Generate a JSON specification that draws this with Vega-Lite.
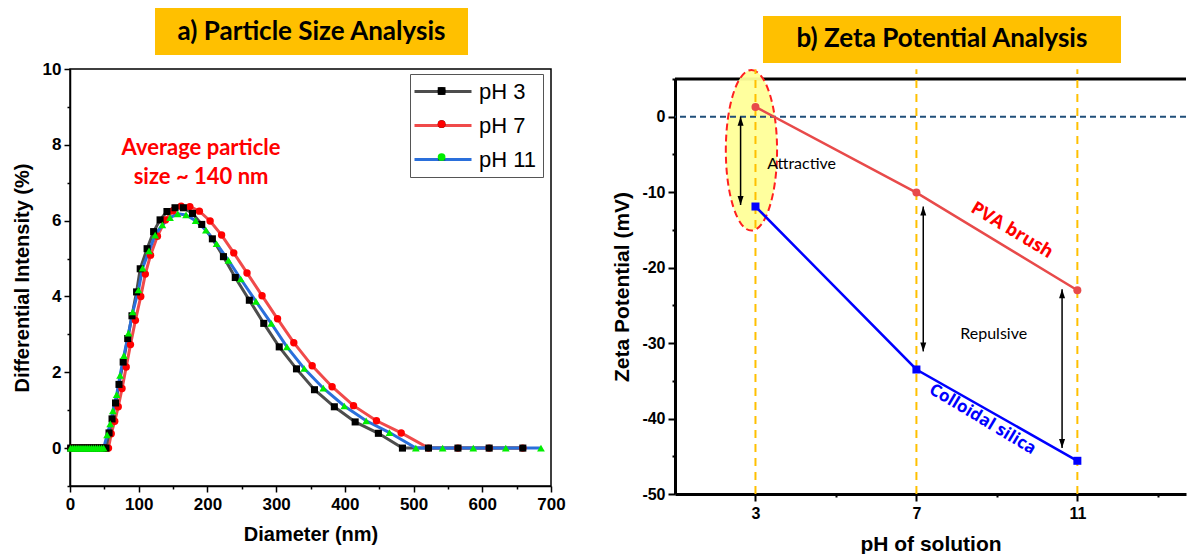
{
"$schema":"https://vega.github.io/schema/vega-lite/v6.json",
"padding":{"left":11,"top":8,"right":0,"bottom":0},
"config":{"font":"Liberation Sans","view":{"stroke":null},
 "axis":{"grid":false,"domainColor":"black","tickColor":"black","labelColor":"black","titleColor":"black","labelFont":"Liberation Sans","titleFont":"Liberation Sans","labelFontWeight":"bold","titleFontWeight":"bold","labelOverlap":false,"labelFlush":false,"tickCount":100}},
"datasets":{
"dls":[
{"s":"pH 7","d":1,"i":0},{"s":"pH 7","d":4,"i":0},{"s":"pH 7","d":7,"i":0},{"s":"pH 7","d":10,"i":0},{"s":"pH 7","d":13,"i":0},{"s":"pH 7","d":16,"i":0},{"s":"pH 7","d":19,"i":0},{"s":"pH 7","d":22,"i":0},{"s":"pH 7","d":25,"i":0},{"s":"pH 7","d":28,"i":0},{"s":"pH 7","d":31,"i":0},{"s":"pH 7","d":34,"i":0},{"s":"pH 7","d":37,"i":0},{"s":"pH 7","d":40,"i":0},{"s":"pH 7","d":43,"i":0},{"s":"pH 7","d":46,"i":0},{"s":"pH 7","d":49,"i":0},{"s":"pH 7","d":52,"i":0},
{"s":"pH 7","d":56.0,"i":0},{"s":"pH 7","d":60.0,"i":0.38},{"s":"pH 7","d":65.1,"i":0.71},{"s":"pH 7","d":70.2,"i":1.09},{"s":"pH 7","d":75.7,"i":1.57},{"s":"pH 7","d":81.8,"i":2.14},{"s":"pH 7","d":88.0,"i":2.73},{"s":"pH 7","d":95.2,"i":3.37},{"s":"pH 7","d":103.0,"i":4.0},{"s":"pH 7","d":109.6,"i":4.59},{"s":"pH 7","d":117.2,"i":5.09},{"s":"pH 7","d":127.2,"i":5.59},{"s":"pH 7","d":138.9,"i":6.02},{"s":"pH 7","d":150.0,"i":6.26},{"s":"pH 7","d":161.7,"i":6.38},{"s":"pH 7","d":174.4,"i":6.37},{"s":"pH 7","d":188.3,"i":6.25},{"s":"pH 7","d":203.9,"i":5.99},{"s":"pH 7","d":220.6,"i":5.62},{"s":"pH 7","d":238.3,"i":5.15},{"s":"pH 7","d":257.6,"i":4.62},{"s":"pH 7","d":279.5,"i":4.02},{"s":"pH 7","d":302.0,"i":3.41},{"s":"pH 7","d":325.7,"i":2.78},{"s":"pH 7","d":352.4,"i":2.17},{"s":"pH 7","d":381.4,"i":1.62},{"s":"pH 7","d":412.6,"i":1.12},{"s":"pH 7","d":446.0,"i":0.72},{"s":"pH 7","d":482.0,"i":0.4},{"s":"pH 7","d":521.7,"i":0},{"s":"pH 7","d":564.6,"i":0},{"s":"pH 7","d":610.0,"i":0},{"s":"pH 7","d":659.0,"i":0},
{"s":"pH 3","d":1,"i":0},{"s":"pH 3","d":4,"i":0},{"s":"pH 3","d":7,"i":0},{"s":"pH 3","d":10,"i":0},{"s":"pH 3","d":13,"i":0},{"s":"pH 3","d":16,"i":0},{"s":"pH 3","d":19,"i":0},{"s":"pH 3","d":22,"i":0},{"s":"pH 3","d":25,"i":0},{"s":"pH 3","d":28,"i":0},{"s":"pH 3","d":31,"i":0},{"s":"pH 3","d":34,"i":0},{"s":"pH 3","d":37,"i":0},{"s":"pH 3","d":40,"i":0},{"s":"pH 3","d":43,"i":0},{"s":"pH 3","d":46,"i":0},{"s":"pH 3","d":49,"i":0},
{"s":"pH 3","d":52.3,"i":0},{"s":"pH 3","d":56.8,"i":0.4},{"s":"pH 3","d":61.2,"i":0.77},{"s":"pH 3","d":66.3,"i":1.19},{"s":"pH 3","d":71.3,"i":1.68},{"s":"pH 3","d":77.4,"i":2.27},{"s":"pH 3","d":84.0,"i":2.89},{"s":"pH 3","d":90.2,"i":3.49},{"s":"pH 3","d":96.9,"i":4.12},{"s":"pH 3","d":102.2,"i":4.73},{"s":"pH 3","d":112.2,"i":5.26},{"s":"pH 3","d":121.7,"i":5.71},{"s":"pH 3","d":131.1,"i":6.02},{"s":"pH 3","d":141.1,"i":6.24},{"s":"pH 3","d":152.8,"i":6.34},{"s":"pH 3","d":165.0,"i":6.34},{"s":"pH 3","d":178.3,"i":6.19},{"s":"pH 3","d":191.7,"i":5.9},{"s":"pH 3","d":207.2,"i":5.52},{"s":"pH 3","d":223.3,"i":5.05},{"s":"pH 3","d":240.5,"i":4.5},{"s":"pH 3","d":261.0,"i":3.9},{"s":"pH 3","d":282.0,"i":3.29},{"s":"pH 3","d":304.5,"i":2.67},{"s":"pH 3","d":329.6,"i":2.09},{"s":"pH 3","d":355.8,"i":1.54},{"s":"pH 3","d":384.7,"i":1.09},{"s":"pH 3","d":415.0,"i":0.69},{"s":"pH 3","d":448.8,"i":0.39},{"s":"pH 3","d":483.8,"i":0},{"s":"pH 3","d":521.7,"i":0},{"s":"pH 3","d":564.6,"i":0},{"s":"pH 3","d":610.0,"i":0},{"s":"pH 3","d":659.0,"i":0},
{"s":"pH 11","d":1,"i":0},{"s":"pH 11","d":4,"i":0},{"s":"pH 11","d":7,"i":0},{"s":"pH 11","d":10,"i":0},{"s":"pH 11","d":13,"i":0},{"s":"pH 11","d":16,"i":0},{"s":"pH 11","d":19,"i":0},{"s":"pH 11","d":22,"i":0},{"s":"pH 11","d":25,"i":0},{"s":"pH 11","d":28,"i":0},{"s":"pH 11","d":31,"i":0},{"s":"pH 11","d":34,"i":0},{"s":"pH 11","d":37,"i":0},{"s":"pH 11","d":40,"i":0},{"s":"pH 11","d":43,"i":0},{"s":"pH 11","d":46,"i":0},{"s":"pH 11","d":49,"i":0},
{"s":"pH 11","d":54.0,"i":0.35},{"s":"pH 11","d":58.5,"i":0.64},{"s":"pH 11","d":62.4,"i":0.98},{"s":"pH 11","d":67.9,"i":1.41},{"s":"pH 11","d":72.9,"i":1.92},{"s":"pH 11","d":78.5,"i":2.44},{"s":"pH 11","d":85.2,"i":3.03},{"s":"pH 11","d":91.3,"i":3.59},{"s":"pH 11","d":99.7,"i":4.17},{"s":"pH 11","d":105.7,"i":4.75},{"s":"pH 11","d":115.0,"i":5.2},{"s":"pH 11","d":123.9,"i":5.62},{"s":"pH 11","d":134.4,"i":5.89},{"s":"pH 11","d":145.6,"i":6.08},{"s":"pH 11","d":156.7,"i":6.18},{"s":"pH 11","d":168.9,"i":6.15},{"s":"pH 11","d":182.8,"i":6.0},{"s":"pH 11","d":197.8,"i":5.75},{"s":"pH 11","d":213.3,"i":5.39},{"s":"pH 11","d":230.6,"i":4.95},{"s":"pH 11","d":248.5,"i":4.46},{"s":"pH 11","d":270.6,"i":3.87},{"s":"pH 11","d":292.9,"i":3.29},{"s":"pH 11","d":315.7,"i":2.67},{"s":"pH 11","d":340.8,"i":2.1},{"s":"pH 11","d":368.6,"i":1.58},{"s":"pH 11","d":399.2,"i":1.11},{"s":"pH 11","d":431.0,"i":0.72},{"s":"pH 11","d":464.9,"i":0.41},{"s":"pH 11","d":503.3,"i":0},{"s":"pH 11","d":542.3,"i":0},{"s":"pH 11","d":586.9,"i":0},{"s":"pH 11","d":634.2,"i":0},{"s":"pH 11","d":685.4,"i":0}
],
"zeta":[
{"pH":3,"z":1.3,"s":"PVA brush"},{"pH":7,"z":-10.05,"s":"PVA brush"},{"pH":11,"z":-23.0,"s":"PVA brush"},
{"pH":3,"z":-11.9,"s":"Colloidal silica"},{"pH":7,"z":-33.5,"s":"Colloidal silica"},{"pH":11,"z":-45.6,"s":"Colloidal silica"}
],
"arrows":[
{"pH":2.63,"z":0,"z2":-11.7},{"pH":7.17,"z":-11.9,"z2":-31.1},{"pH":10.62,"z":-22.85,"z2":-43.9}
]
},
"resolve":{"scale":{"color":"independent","fill":"independent","shape":"independent","size":"independent"}},
"spacing":45,
"hconcat":[
{"bounds":"flush","spacing":14,
 "resolve":{"scale":{"color":"independent","fill":"independent","shape":"independent","size":"independent"}},
 "vconcat":[
 {"width":398,"height":47,"data":{"values":[{"t":"a) Particle Size Analysis"}]},
  "layer":[
   {"mark":{"type":"rect","color":"#ffc000"},
    "encoding":{"x":{"datum":0,"type":"quantitative","scale":{"domain":[-0.2716,1],"nice":false,"zero":false},"axis":null},"x2":{"datum":1},
     "y":{"datum":0,"type":"quantitative","scale":{"domain":[0,1],"nice":false},"axis":null},"y2":{"datum":1}}},
   {"mark":{"type":"text","font":"Lato","fontWeight":"bold","fontSize":26,"color":"black","baseline":"middle","align":"center"},
    "encoding":{"x":{"datum":0.5,"type":"quantitative"},"y":{"datum":0.5,"type":"quantitative"},"text":{"field":"t"}}}
  ]},
 {"width":481,"height":417,"view":{"stroke":"black","strokeWidth":1.5},"data":{"name":"dls"},
  "layer":[
   {"mark":{"type":"line","strokeWidth":3},
    "encoding":{
     "x":{"field":"d","type":"quantitative","scale":{"domain":[0,700],"nice":false},
      "axis":{"title":"Diameter (nm)","values":[0,50,100,150,200,250,300,350,400,450,500,550,600,650,700],"tickCount":100,
       "labelExpr":"datum.value % 100 === 0 ? toString(datum.value) : ''",
       "tickSize":{"condition":{"test":"datum.value % 100 === 0","value":6},"value":3},
       "labelFontSize":17,"titleFontSize":20,"labelPadding":4,"titlePadding":12,"domainWidth":1.5,"tickWidth":1.5}},
     "y":{"field":"i","type":"quantitative","scale":{"domain":[-1,10],"nice":false,"zero":false},
      "axis":{"title":"Differential Intensity (%)","values":[-1,0,1,2,3,4,5,6,7,8,9,10],"tickCount":100,
       "labelExpr":"(datum.value == 0 || datum.value == 2 || datum.value == 4 || datum.value == 6 || datum.value == 8 || datum.value == 10) ? toString(datum.value) : ''",
       "tickSize":{"condition":{"test":"datum.value == 0 || datum.value == 2 || datum.value == 4 || datum.value == 6 || datum.value == 8 || datum.value == 10","value":6},"value":3},
       "labelFontSize":17,"titleFontSize":20,"labelPadding":3,"titlePadding":10,"domainWidth":1.5,"tickWidth":1.5}},
     "color":{"field":"s","type":"nominal","scale":{"domain":["pH 3","pH 7","pH 11"],"range":["#4d4d4d","#f04a4a","#2a6fdb"]},
      "legend":{"orient":"none","legendX":340,"legendY":5,"title":null,"symbolType":"M-1.3,0H4.4","symbolSize":400,"symbolStrokeWidth":3,
       "labelFontSize":22,"labelFont":"Liberation Sans","labelFontWeight":"normal","labelColor":"black","rowPadding":11,"padding":6,"strokeColor":"#555555","labelOffset":40}}
    }},
   {"mark":{"type":"point","filled":true,"opacity":1,"strokeWidth":0},
    "encoding":{
     "x":{"field":"d","type":"quantitative"},
     "y":{"field":"i","type":"quantitative"},
     "size":{"field":"s","type":"nominal","sort":["pH 3","pH 7","pH 11"],"scale":{"range":[50,60,80]},"legend":null},
     "fill":{"field":"s","type":"nominal","sort":["pH 3","pH 7","pH 11"],"scale":{"range":["#000000","#ff0000","#00ee00"]},
      "legend":{"orient":"none","legendX":354.6,"legendY":5,"title":null,"symbolSize":60,"symbolStrokeWidth":0,"labelFontSize":22,"labelOpacity":0,"rowPadding":11,"padding":6}},
     "shape":{"field":"s","type":"nominal","sort":["pH 3","pH 7","pH 11"],"scale":{"range":["square","circle","triangle-up"]},
      "legend":{"orient":"none","legendX":354.6,"legendY":5,"title":null,"symbolSize":60,"symbolStrokeWidth":0,"labelFontSize":22,"labelOpacity":0,"rowPadding":11,"padding":6}}
    }},
   {"data":{"values":[{"d":190.7,"i":7.92,"t":"Average particle\nsize ~ 140 nm"}]},
    "mark":{"type":"text","lineBreak":"\n","font":"Lato","fontWeight":"bold","fontSize":22,"color":"#ff0000","lineHeight":29,"align":"center","baseline":"middle"},
    "encoding":{"x":{"field":"d","type":"quantitative"},"y":{"field":"i","type":"quantitative"},"text":{"field":"t"}}}
  ]}
]},
{"bounds":"flush","spacing":16,"vconcat":[
 {"width":446,"height":55,"data":{"values":[{"t":"b) Zeta Potential Analysis"}]},
  "layer":[
   {"mark":{"type":"rect","color":"#ffc000"},
    "encoding":{"x":{"datum":0,"type":"quantitative","scale":{"domain":[-0.2458,1],"nice":false,"zero":false},"axis":null},"x2":{"datum":1},
     "y":{"datum":0,"type":"quantitative","scale":{"domain":[0,1.1702],"nice":false},"axis":null},"y2":{"datum":1}}},
   {"mark":{"type":"text","font":"Lato","fontWeight":"bold","fontSize":26,"color":"black","baseline":"middle","align":"center"},
    "encoding":{"x":{"datum":0.5,"type":"quantitative"},"y":{"datum":0.5,"type":"quantitative"},"text":{"field":"t"}}}
  ]},
 {"width":511,"height":415,"data":{"name":"zeta"},
  "layer":[
   {"data":{"values":[{}]},"mark":{"type":"rule","color":"black","strokeWidth":3},
    "encoding":{"y":{"datum":5,"type":"quantitative"}}},
   {"data":{"values":[{"pH":2.9,"z":-4.45}]},
    "mark":{"type":"point","shape":"M0,-1C0.176,-1,0.319,-0.552,0.319,0C0.319,0.552,0.176,1,0,1C-0.176,1,-0.319,0.552,-0.319,0C-0.319,-0.552,-0.176,-1,0,-1Z","size":25800,"fill":"#ffff99","fillOpacity":0.95,"stroke":"#ff2020","strokeWidth":2,"strokeDash":[7,4],"opacity":1},
    "encoding":{"x":{"field":"pH","type":"quantitative"},"y":{"field":"z","type":"quantitative"}}},
   {"data":{"values":[{}]},"mark":{"type":"rule","color":"#1f4e79","strokeWidth":2,"strokeDash":[6,4]},
    "encoding":{"y":{"datum":0,"type":"quantitative"}}},
   {"data":{"values":[{"pH":3},{"pH":7},{"pH":11}]},"mark":{"type":"rule","color":"#ffc000","strokeWidth":2,"strokeDash":[8,6]},
    "encoding":{"x":{"field":"pH","type":"quantitative"},"y":{"datum":-50,"type":"quantitative"},"y2":{"datum":6.3}}},
   {"mark":{"type":"line","strokeWidth":2.5},
    "encoding":{
     "x":{"field":"pH","type":"quantitative","scale":{"domain":[1,13.7],"nice":false,"zero":false},
      "axis":{"title":"pH of solution","values":[3,5,7,9,11,13],"tickCount":100,
       "labelExpr":"datum.value % 4 === 3 ? toString(datum.value) : ''",
       "tickSize":{"condition":{"test":"datum.value % 4 === 3","value":7},"value":3},
       "labelFontSize":16,"titleFontSize":21,"labelPadding":4,"titlePadding":12,"domainWidth":3,"tickWidth":2}},
     "y":{"field":"z","type":"quantitative","scale":{"domain":[-50,5],"nice":false,"zero":false},
      "axis":{"title":"Zeta Potential (mV)","values":[-50,-45,-40,-35,-30,-25,-20,-15,-10,-5,0,5],"tickCount":100,
       "labelExpr":"datum.value % 10 === 0 ? toString(datum.value) : ''",
       "tickSize":{"condition":{"test":"datum.value % 10 === 0","value":7},"value":3},
       "labelFontSize":16,"titleFontSize":21,"labelPadding":3,"titlePadding":9,"domainWidth":3,"tickWidth":2}},
     "color":{"field":"s","type":"nominal","scale":{"domain":["PVA brush","Colloidal silica"],"range":["#e84a4a","#0000ff"]},"legend":null}
    }},
   {"mark":{"type":"point","filled":true,"opacity":1,"size":64,"strokeWidth":0},
    "encoding":{
     "x":{"field":"pH","type":"quantitative"},"y":{"field":"z","type":"quantitative"},
     "color":{"field":"s","type":"nominal","legend":null},
     "shape":{"field":"s","type":"nominal","scale":{"domain":["PVA brush","Colloidal silica"],"range":["circle","square"]},"legend":null}
    }},
   {"data":{"name":"arrows"},"mark":{"type":"rule","color":"black","strokeWidth":1.5},
    "encoding":{"x":{"field":"pH","type":"quantitative"},"y":{"field":"z","type":"quantitative"},"y2":{"field":"z2"}}},
   {"data":{"name":"arrows"},"mark":{"type":"point","shape":"M0,0L0.6,1.8L-0.6,1.8Z","size":100,"filled":true,"color":"black","opacity":1,"strokeWidth":0},
    "encoding":{"x":{"field":"pH","type":"quantitative"},"y":{"field":"z","type":"quantitative"}}},
   {"data":{"name":"arrows"},"mark":{"type":"point","shape":"M0,0L0.6,-1.8L-0.6,-1.8Z","size":100,"filled":true,"color":"black","opacity":1,"strokeWidth":0},
    "encoding":{"x":{"field":"pH","type":"quantitative"},"y":{"field":"z2","type":"quantitative"}}},
   {"data":{"values":[{"pH":3.29,"z":-6.26,"t":"Attractive"},{"pH":8.09,"z":-28.75,"t":"Repulsive"}]},
    "mark":{"type":"text","font":"Lato","fontSize":16,"color":"black","align":"left","baseline":"middle"},
    "encoding":{"x":{"field":"pH","type":"quantitative"},"y":{"field":"z","type":"quantitative"},"text":{"field":"t"}}},
   {"data":{"values":[{"pH":9.37,"z":-15.1,"t":"PVA brush"}]},
    "mark":{"type":"text","font":"Open Sans","fontWeight":"bold","fontSize":18,"color":"#ff0000","align":"center","baseline":"middle","angle":31},
    "encoding":{"x":{"field":"pH","type":"quantitative"},"y":{"field":"z","type":"quantitative"},"text":{"field":"t"}}},
   {"data":{"values":[{"pH":8.64,"z":-40.1,"t":"Colloidal silica"}]},
    "mark":{"type":"text","font":"Open Sans","fontWeight":"bold","fontSize":17,"color":"#0000ff","align":"center","baseline":"middle","angle":31},
    "encoding":{"x":{"field":"pH","type":"quantitative"},"y":{"field":"z","type":"quantitative"},"text":{"field":"t"}}}
  ]}
]}
]
}
